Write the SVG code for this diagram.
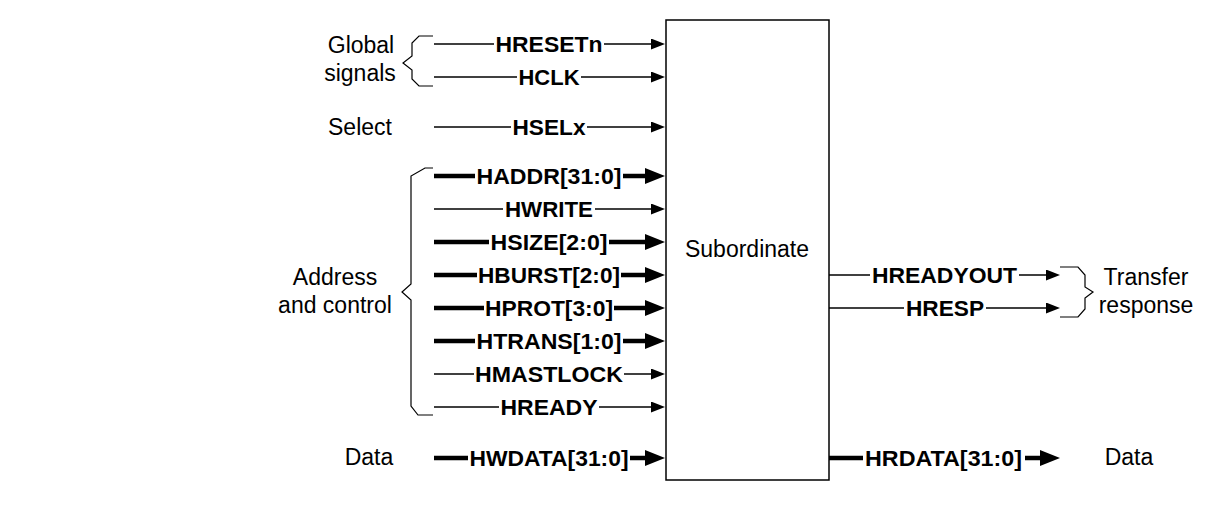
<svg xmlns="http://www.w3.org/2000/svg" width="1214" height="520" viewBox="0 0 1214 520">
<style>
.sig{font-family:"Liberation Sans",Arial,sans-serif;font-weight:bold;font-size:22px;text-anchor:middle;fill:#000}
.lbl{font-family:"Liberation Sans",Arial,sans-serif;font-size:23px;text-anchor:middle;fill:#000}
.thin{stroke:#000;stroke-width:1.3;fill:none}
.thick{stroke:#000;stroke-width:4.5;fill:none}
.brace{stroke:#000;stroke-width:1.2;fill:none}
.box{stroke:#000;stroke-width:1.5;fill:#fff}
</style>
<defs>
<marker id="ah" markerUnits="userSpaceOnUse" viewBox="0 0 14 11" markerWidth="14" markerHeight="11" refX="10" refY="5.5" orient="auto"><path d="M0,0 L14,5.5 L0,11 z" fill="#000"/></marker>
<marker id="ahb" markerUnits="userSpaceOnUse" viewBox="0 0 20 16" markerWidth="20" markerHeight="16" refX="10" refY="8" orient="auto"><path d="M0,0 L20,8 L0,16 z" fill="#000"/></marker>
</defs>
<rect width="1214" height="520" fill="#fff"/>

<g id="subordinate">
<rect class="box" x="666" y="20" width="163" height="460"/>
<text class="lbl" x="747" y="257">Subordinate</text>
</g>

<g id="group-labels">
<text class="lbl" x="361" y="53">Global</text>
<text class="lbl" x="360" y="81">signals</text>
<text class="lbl" x="360" y="135">Select</text>
<text class="lbl" x="335" y="285">Address</text>
<text class="lbl" x="335" y="313">and control</text>
<text class="lbl" x="369" y="465">Data</text>
<text class="lbl" x="1146" y="285">Transfer</text>
<text class="lbl" x="1146" y="313">response</text>
<text class="lbl" x="1129" y="465">Data</text>
</g>

<g id="braces">
<path class="brace" d="M433,36 H419 L412,43 V56 L403,63 L412,70 V79 L419,86 H433"/>
<path class="brace" d="M433,168 H425 L411,176 V284 L402,292 L411,300 V406 L418,415 H433"/>
<path class="brace" d="M1060,267 H1078 L1085,275 V287 L1093,292 L1085,298 V309 L1078,317 H1060"/>
</g>

<g id="connectors">
<path class="thin" d="M434,44 H494"/><path class="thin" d="M604,44 H661" marker-end="url(#ah)"/>
<path class="thin" d="M434,77 H517"/><path class="thin" d="M581,77 H661" marker-end="url(#ah)"/>
<path class="thin" d="M434,127 H511"/><path class="thin" d="M587,127 H661" marker-end="url(#ah)"/>
<path class="thick" d="M434,176 H475"/><path class="thick" d="M623,176 H655" marker-end="url(#ahb)"/>
<path class="thin" d="M434,209 H503"/><path class="thin" d="M595,209 H661" marker-end="url(#ah)"/>
<path class="thick" d="M434,242 H489"/><path class="thick" d="M609,242 H655" marker-end="url(#ahb)"/>
<path class="thick" d="M434,275 H477"/><path class="thick" d="M621,275 H655" marker-end="url(#ahb)"/>
<path class="thick" d="M434,308 H484"/><path class="thick" d="M614,308 H655" marker-end="url(#ahb)"/>
<path class="thick" d="M434,341 H475"/><path class="thick" d="M623,341 H655" marker-end="url(#ahb)"/>
<path class="thin" d="M434,374 H474"/><path class="thin" d="M624,374 H661" marker-end="url(#ah)"/>
<path class="thin" d="M434,407 H499"/><path class="thin" d="M599,407 H661" marker-end="url(#ah)"/>
<path class="thick" d="M434,458 H468"/><path class="thick" d="M630,458 H655" marker-end="url(#ahb)"/>
<path class="thin" d="M829,275 H870"/><path class="thin" d="M1019,275 H1056" marker-end="url(#ah)"/>
<path class="thin" d="M829,308 H904"/><path class="thin" d="M986,308 H1056" marker-end="url(#ah)"/>
<path class="thick" d="M829,458 H863"/><path class="thick" d="M1025,458 H1050" marker-end="url(#ahb)"/>
</g>

<g id="signal-labels">
<text class="sig" x="549" y="52" textLength="107" lengthAdjust="spacingAndGlyphs">HRESETn</text>
<text class="sig" x="549" y="85" textLength="61" lengthAdjust="spacingAndGlyphs">HCLK</text>
<text class="sig" x="549" y="135" textLength="73" lengthAdjust="spacingAndGlyphs">HSELx</text>
<text class="sig" x="549" y="184" textLength="145" lengthAdjust="spacingAndGlyphs">HADDR[31:0]</text>
<text class="sig" x="549" y="217" textLength="88" lengthAdjust="spacingAndGlyphs">HWRITE</text>
<text class="sig" x="549" y="250" textLength="117" lengthAdjust="spacingAndGlyphs">HSIZE[2:0]</text>
<text class="sig" x="549" y="283" textLength="142" lengthAdjust="spacingAndGlyphs">HBURST[2:0]</text>
<text class="sig" x="549" y="316" textLength="128" lengthAdjust="spacingAndGlyphs">HPROT[3:0]</text>
<text class="sig" x="549" y="349" textLength="145" lengthAdjust="spacingAndGlyphs">HTRANS[1:0]</text>
<text class="sig" x="549" y="382" textLength="148" lengthAdjust="spacingAndGlyphs">HMASTLOCK</text>
<text class="sig" x="549" y="415" textLength="97" lengthAdjust="spacingAndGlyphs">HREADY</text>
<text class="sig" x="549" y="466" textLength="159" lengthAdjust="spacingAndGlyphs">HWDATA[31:0]</text>
<text class="sig" x="944.5" y="283" textLength="145" lengthAdjust="spacingAndGlyphs">HREADYOUT</text>
<text class="sig" x="945" y="316" textLength="78" lengthAdjust="spacingAndGlyphs">HRESP</text>
<text class="sig" x="943.5" y="466" textLength="157" lengthAdjust="spacingAndGlyphs">HRDATA[31:0]</text>
</g>
</svg>
